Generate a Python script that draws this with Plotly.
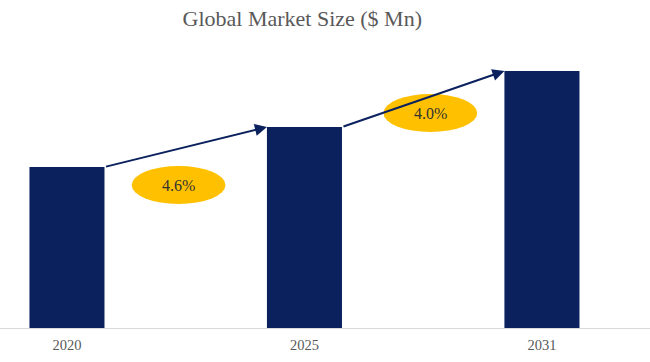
import plotly.graph_objects as go

# ---- data ----
years = ["2020", "2025", "2031"]
market_size = [161, 201, 257]
cagr_labels = ["4.6%", "4.0%"]

# ---- style ----
BAR_COLOR = "#0A215E"
GOLD = "#FFC000"
SERIF = "Liberation Serif"
BAR_W = 0.316
# ellipse offsets relative to arrow midpoints (x in category units, y in value units)
ell_offsets = [(-0.03, -38), (0.03, -14)]
ELL_W, ELL_H = 0.395, 38

xs = list(range(len(years)))

fig = go.Figure()
fig.add_trace(go.Bar(
    x=xs, y=market_size, width=BAR_W,
    marker=dict(color=BAR_COLOR, line=dict(width=0)),
    hoverinfo="skip",
))

shapes = []
annotations = []
for i in range(len(years) - 1):
    x0 = xs[i] + BAR_W / 2
    y0 = market_size[i]
    x1 = xs[i + 1] - BAR_W / 2
    y1 = market_size[i + 1]
    annotations.append(dict(
        x=x1, y=y1, ax=x0, ay=y0, xref="x", yref="y", axref="x", ayref="y",
        showarrow=True, arrowhead=2, arrowsize=1.2, arrowwidth=2,
        arrowcolor=BAR_COLOR, text="", standoff=0, startstandoff=0,
    ))
    mx = (x0 + x1) / 2 + ell_offsets[i][0]
    my = (y0 + y1) / 2 + ell_offsets[i][1]
    shapes.append(dict(
        type="circle", xref="x", yref="y",
        x0=mx - ELL_W / 2, x1=mx + ELL_W / 2,
        y0=my - ELL_H / 2, y1=my + ELL_H / 2,
        fillcolor=GOLD, line=dict(width=0), layer="above",
    ))
    annotations.append(dict(
        x=mx, y=my, xref="x", yref="y", text=cagr_labels[i], showarrow=False,
        font=dict(family=SERIF, size=16, color="#333333"),
    ))

fig.update_layout(
    width=650, height=362,
    margin=dict(l=0, r=0, t=40, b=34),
    paper_bgcolor="white", plot_bgcolor="white",
    showlegend=False,
    font=dict(family=SERIF),
    title=dict(text="Global Market Size ($ Mn)", x=0.465, xanchor="center",
               y=0.95, yanchor="middle",
               font=dict(family=SERIF, size=22, color="#595959")),
    xaxis=dict(
        range=[-0.282, 2.455], tickmode="array", tickvals=xs, ticktext=years,
        showgrid=False, zeroline=False, showline=True, linecolor="#d9d9d9",
        linewidth=1, ticks="", tickfont=dict(family=SERIF, size=14.5, color="#595959"),
        ticklabelstandoff=4,
    ),
    yaxis=dict(range=[0, 288], visible=False, showgrid=False, zeroline=False),
    shapes=shapes,
    annotations=annotations,
)

fig.write_html("out.html", config={"displayModeBar": False},
               post_script="document.body.style.margin='0';")
